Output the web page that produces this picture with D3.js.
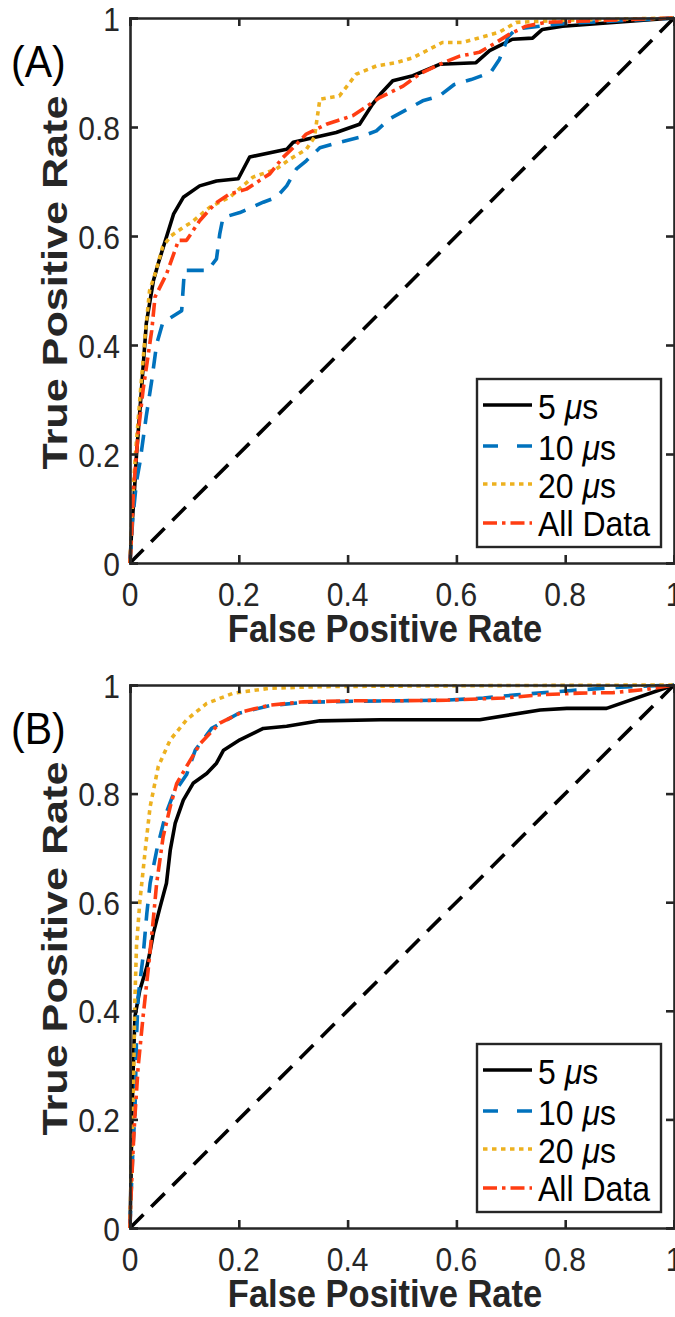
<!DOCTYPE html>
<html><head><meta charset="utf-8">
<script src="https://cdn.jsdelivr.net/npm/d3@7"></script>
<style>
html,body{margin:0;padding:0;background:#fff;}
svg{display:block;font-family:"Liberation Sans",Arial,Helvetica,sans-serif;}
</style></head>
<body><svg id="chart" width="675" height="1317"></svg>
<script>
// ---------- data ----------
const seriesNames = ["5 μs", "10 μs", "20 μs", "All Data"];
const xTicks = [0, 0.2, 0.4, 0.6, 0.8, 1];
const yTicks = [0, 0.2, 0.4, 0.6, 0.8, 1];
const xTickLabels = ["0", "0.2", "0.4", "0.6", "0.8", "1"];
const yTickLabels = ["0", "0.2", "0.4", "0.6", "0.8", "1"];
const diagonal = [[0, 0], [1, 1]];

// Panel A
const A_5us = [[0,0],[0.003,0.06],[0.008,0.13],[0.012,0.2],[0.021,0.317],[0.03,0.44],[0.043,0.518],[0.052,0.55],[0.061,0.579],[0.08,0.64],[0.098,0.671],[0.128,0.692],[0.159,0.701],[0.199,0.705],[0.22,0.745],[0.288,0.759],[0.30,0.772],[0.379,0.79],[0.422,0.805],[0.446,0.842],[0.46,0.86],[0.483,0.885],[0.52,0.894],[0.569,0.915],[0.636,0.918],[0.661,0.94],[0.703,0.961],[0.74,0.963],[0.758,0.979],[0.795,0.985],[1,1]];
const A_10us = [[0,0],[0.005,0.08],[0.012,0.15],[0.018,0.183],[0.03,0.27],[0.04,0.335],[0.049,0.402],[0.06,0.44],[0.067,0.445],[0.095,0.463],[0.1,0.537],[0.143,0.537],[0.159,0.558],[0.165,0.604],[0.171,0.634],[0.202,0.643],[0.245,0.662],[0.269,0.671],[0.288,0.692],[0.306,0.723],[0.324,0.738],[0.349,0.762],[0.385,0.772],[0.422,0.781],[0.453,0.793],[0.477,0.815],[0.505,0.83],[0.538,0.848],[0.569,0.857],[0.596,0.878],[0.627,0.887],[0.663,0.9],[0.679,0.924],[0.695,0.965],[0.71,0.98],[0.8,0.99],[1,1]];
const A_20us = [[0,0],[0.004,0.1],[0.01,0.2],[0.018,0.3],[0.028,0.42],[0.036,0.5],[0.046,0.53],[0.06,0.58],[0.075,0.6],[0.098,0.616],[0.113,0.625],[0.147,0.653],[0.183,0.671],[0.226,0.708],[0.269,0.723],[0.294,0.741],[0.324,0.759],[0.339,0.781],[0.346,0.83],[0.349,0.851],[0.385,0.857],[0.416,0.897],[0.453,0.912],[0.489,0.918],[0.52,0.927],[0.574,0.955],[0.611,0.955],[0.679,0.974],[0.71,0.992],[0.8,0.996],[1,1]];
const A_all = [[0,0],[0.003,0.05],[0.006,0.128],[0.015,0.238],[0.024,0.317],[0.04,0.427],[0.046,0.488],[0.067,0.53],[0.085,0.58],[0.089,0.592],[0.104,0.592],[0.128,0.628],[0.156,0.659],[0.183,0.677],[0.214,0.686],[0.257,0.714],[0.281,0.744],[0.3,0.762],[0.324,0.787],[0.361,0.805],[0.41,0.821],[0.459,0.854],[0.502,0.875],[0.532,0.897],[0.569,0.915],[0.606,0.93],[0.642,0.937],[0.673,0.955],[0.697,0.97],[0.728,0.985],[0.764,0.992],[1,1]];

// Panel B
const B_5us = [[0,0],[0.002,0.1],[0.003,0.175],[0.006,0.297],[0.009,0.389],[0.018,0.438],[0.031,0.481],[0.037,0.51],[0.043,0.543],[0.055,0.59],[0.067,0.635],[0.074,0.696],[0.083,0.745],[0.098,0.788],[0.116,0.819],[0.141,0.837],[0.159,0.856],[0.172,0.88],[0.202,0.899],[0.245,0.92],[0.288,0.924],[0.349,0.934],[0.46,0.936],[0.643,0.936],[0.754,0.954],[0.803,0.957],[0.876,0.957],[1,1]];
const B_10us = [[0,0],[0.002,0.06],[0.006,0.16],[0.009,0.21],[0.012,0.352],[0.015,0.426],[0.024,0.5],[0.031,0.58],[0.037,0.635],[0.05,0.7],[0.065,0.76],[0.08,0.8],[0.104,0.835],[0.12,0.88],[0.15,0.92],[0.2,0.948],[0.257,0.962],[0.32,0.968],[0.41,0.97],[0.5,0.971],[0.58,0.972],[0.65,0.976],[0.711,0.982],[0.827,0.991],[0.9,0.996],[1,1]];
const B_20us = [[0,0],[0.002,0.1],[0.005,0.2],[0.007,0.3],[0.009,0.42],[0.012,0.52],[0.018,0.6],[0.028,0.696],[0.037,0.776],[0.052,0.85],[0.074,0.899],[0.104,0.936],[0.141,0.966],[0.19,0.985],[0.257,0.994],[0.35,0.997],[0.5,0.998],[0.7,0.999],[1,1]];
const B_all = [[0,0],[0.001,0.04],[0.003,0.083],[0.006,0.15],[0.009,0.205],[0.015,0.297],[0.024,0.389],[0.034,0.481],[0.043,0.57],[0.049,0.635],[0.061,0.721],[0.074,0.776],[0.086,0.819],[0.104,0.85],[0.129,0.892],[0.165,0.93],[0.208,0.951],[0.257,0.963],[0.319,0.969],[0.41,0.971],[0.5,0.971],[0.582,0.972],[0.686,0.976],[0.754,0.982],[0.827,0.985],[0.888,0.986],[0.95,0.992],[1,1]];

// ---------- styling ----------
const colors = ["#000000", "#0072BD", "#EDB120", "#FF3D12"];
const dashes = [null, "17,11", "4.5,4.5", "14,5,3.5,5"];
const FONT_STRETCH = 1.1;

const svg = d3.select("#chart");
const panels = [
  {label: "(A)", top: 18, bottom: 563, data: [A_5us, A_10us, A_20us, A_all], legendTop: 379},
  {label: "(B)", top: 685, bottom: 1228, data: [B_5us, B_10us, B_20us, B_all], legendTop: 1044}
];
const left = 130, right = 674;
const axisColor = "#262626";

function stretchedText(g, x, y, txt, opts) {
  const t = g.append("text")
    .attr("transform", `translate(${x},${y}) scale(1,${FONT_STRETCH})`)
    .attr("font-size", opts.size)
    .attr("fill", opts.fill || "#262626")
    .attr("text-anchor", opts.anchor || "start")
    .attr("dominant-baseline", opts.baseline || "central");
  if (opts.weight) t.attr("font-weight", opts.weight);
  if (txt !== null) t.text(txt);
  return t;
}

panels.forEach(p => {
  const x = d3.scaleLinear().domain([0, 1]).range([left, right]);
  const y = d3.scaleLinear().domain([0, 1]).range([p.bottom, p.top]);
  const g = svg.append("g");

  const line = d3.line().x(d => x(d[0])).y(d => y(d[1]));
  g.append("path").datum(diagonal).attr("d", line)
    .attr("fill", "none").attr("stroke", "#000").attr("stroke-width", 3.6)
    .attr("stroke-dasharray", "19,11");

  p.data.forEach((ds, i) => {
    const path = g.append("path").datum(ds).attr("d", line)
      .attr("fill", "none").attr("stroke", colors[i])
      .attr("stroke-width", 3.6).attr("stroke-linejoin", "round");
    if (dashes[i]) path.attr("stroke-dasharray", dashes[i]);
  });

  const tickLen = 8;
  const axB = g.append("g").attr("transform", `translate(0,${p.bottom})`)
    .call(d3.axisBottom(x).tickValues(xTicks).tickSize(-tickLen).tickFormat(""));
  const axT = g.append("g").attr("transform", `translate(0,${p.top})`)
    .call(d3.axisTop(x).tickValues(xTicks).tickSize(-tickLen).tickFormat(""));
  const axL = g.append("g").attr("transform", `translate(${left},0)`)
    .call(d3.axisLeft(y).tickValues(yTicks).tickSize(-tickLen).tickFormat(""));
  const axR = g.append("g").attr("transform", `translate(${right},0)`)
    .call(d3.axisRight(y).tickValues(yTicks).tickSize(-tickLen).tickFormat(""));
  [axB, axT, axL, axR].forEach(a => {
    a.select(".domain").attr("stroke", axisColor).attr("stroke-width", 2.6);
    a.selectAll(".tick line").attr("stroke", axisColor).attr("stroke-width", 2.6);
  });

  xTicks.forEach((v, i) => {
    stretchedText(g, x(v), p.bottom + 31, xTickLabels[i], {size: 30, anchor: "middle"});
  });
  yTicks.forEach((v, i) => {
    stretchedText(g, left - 10, y(v) + 1, yTickLabels[i], {size: 30, anchor: "end"});
  });

  stretchedText(g, 385, p.bottom + 66, "False Positive Rate",
    {size: 34.5, anchor: "middle", weight: "bold"});
  g.append("text")
    .attr("transform", `translate(55,${(p.top + p.bottom) / 2 - 8}) rotate(-90) scale(1.25,1)`)
    .attr("font-size", 34.5).attr("font-weight", "bold").attr("fill", "#262626")
    .attr("text-anchor", "middle").attr("dominant-baseline", "central")
    .text("True Positive Rate");

  stretchedText(g, 11, p.top + 43, p.label, {size: 41, fill: "#000"});

  const lg = g.append("g");
  const lx0 = 477, lx1 = 661, lh = 168;
  lg.append("rect").attr("x", lx0).attr("y", p.legendTop).attr("width", lx1 - lx0).attr("height", lh)
    .attr("fill", "#fff").attr("stroke", axisColor).attr("stroke-width", 2.4);
  const rowY = [26, 67, 105, 144];
  seriesNames.forEach((name, i) => {
    const ry = p.legendTop + rowY[i];
    const l = lg.append("line").attr("x1", 483).attr("x2", 532).attr("y1", ry).attr("y2", ry)
      .attr("stroke", colors[i]).attr("stroke-width", 3.6);
    if (dashes[i]) l.attr("stroke-dasharray", i === 1 ? "15,19" : (i === 2 ? "4.5,4.5" : "14,5,3.5,5"));
    const t = stretchedText(lg, 538, ry + 1, null, {size: 32, fill: "#000"});
    const m = name.match(/^(.*?)(μ)(s)$/);
    if (m) {
      t.append("tspan").text(m[1]);
      t.append("tspan").attr("font-style", "italic").text(m[2]);
      t.append("tspan").text(m[3]);
    } else {
      t.text(name);
    }
  });
});
</script>
</body></html>
